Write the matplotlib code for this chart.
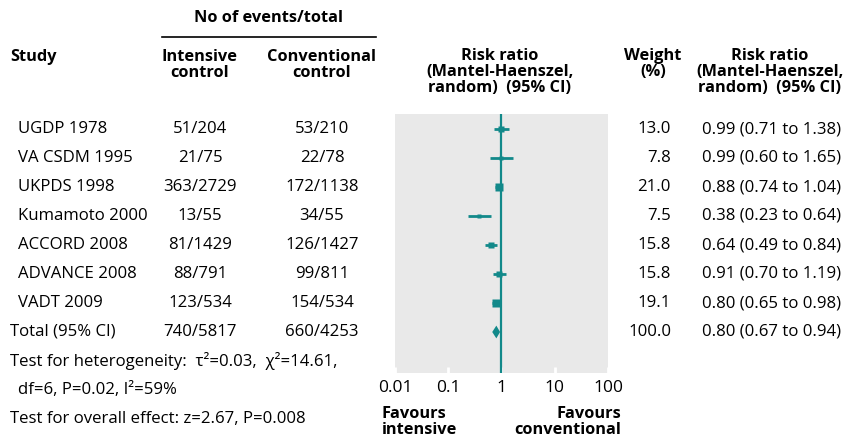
import matplotlib
matplotlib.use("Agg")
import matplotlib.pyplot as plt
import matplotlib.transforms as mtransforms

plt.rcParams['font.family'] = ['Open Sans', 'DejaVu Sans']

studies = ["UGDP 1978", "VA CSDM 1995", "UKPDS 1998", "Kumamoto 2000",
           "ACCORD 2008", "ADVANCE 2008", "VADT 2009"]
intensive = ["51/204", "21/75", "363/2729", "13/55", "81/1429", "88/791", "123/534"]
conventional = ["53/210", "22/78", "172/1138", "34/55", "126/1427", "99/811", "154/534"]
rr = [0.99, 0.99, 0.88, 0.38, 0.64, 0.91, 0.80]
lo = [0.71, 0.60, 0.74, 0.23, 0.49, 0.70, 0.65]
hi = [1.38, 1.65, 1.04, 0.64, 0.84, 1.19, 0.98]
weight = [13.0, 7.8, 21.0, 7.5, 15.8, 15.8, 19.1]

total_label = "Total (95% CI)"
total_int = "740/5817"
total_conv = "660/4253"
total_rr, total_lo, total_hi = 0.80, 0.67, 0.94
total_weight = 100.0

xticks = [0.01, 0.1, 1, 10, 100]
xtick_labels = ["0.01", "0.1", "1", "10", "100"]

TEAL = "#12898a"
FS = 12.1
HFS = 11.8
W, H = 854, 443
fig = plt.figure(figsize=(W / 100, H / 100), dpi=100)

# forest panel in pixel box
left, right, top, bottom = 395, 608, 114, 373
ax = fig.add_axes([left / W, 1 - bottom / H, (right - left) / W, (bottom - top) / H])
ax.set_facecolor("#e9e9e9")
ax.set_xscale("log")
ax.set_xlim(0.01, 100)
row0, step = 129, 29
ax.set_ylim((bottom - row0) / step, (top - row0) / step)
for s in ax.spines.values():
    s.set_visible(False)
ax.set_yticks([])
ax.set_xticks(xticks)
ax.set_xticklabels(xtick_labels, fontsize=12.5)
ax.minorticks_off()
ax.tick_params(axis="x", direction="in", length=4, width=2, color="white", pad=5)

ax.axvline(1, color=TEAL, lw=1.6, zorder=2)
for i in range(len(studies)):
    ax.plot([lo[i], hi[i]], [i, i], color=TEAL, lw=2, solid_capstyle="butt", zorder=3)
    ax.plot(rr[i], i, marker="s", color=TEAL, ms=2.0 + weight[i] * 0.18, mec="none", zorder=4)
ti = len(studies)
ax.fill([total_lo, total_rr, total_hi, total_rr], [ti, ti - 0.22, ti, ti + 0.22],
        color=TEAL, lw=0, zorder=4)

# text helpers: x in figure pixels, y in row units
rowtr = mtransforms.blended_transform_factory(fig.transFigure, ax.transData)


def row_text(x, row, s, **kw):
    fig.text(x / W, row, s, transform=rowtr, va="center", fontsize=FS, **kw)


def fig_text(x, y, s, **kw):
    fig.text(x / W, 1 - y / H, s, va="center", fontsize=HFS, **kw)


for i, name in enumerate(studies):
    row_text(18, i, name, ha="left")
    row_text(200, i, intensive[i], ha="center")
    row_text(322, i, conventional[i], ha="center")
    row_text(671, i, f"{weight[i]:.1f}", ha="right")
    row_text(702, i, f"{rr[i]:.2f} ({lo[i]:.2f} to {hi[i]:.2f})", ha="left")

row_text(10, ti, total_label, ha="left")
row_text(200, ti, total_int, ha="center")
row_text(322, ti, total_conv, ha="center")
row_text(671, ti, f"{total_weight:.1f}", ha="right")
row_text(702, ti, f"{total_rr:.2f} ({total_lo:.2f} to {total_hi:.2f})", ha="left")

row_text(10, ti + 1, "Test for heterogeneity:  τ²=0.03,  χ²=14.61,", ha="left")
row_text(18, ti + 2, "df=6, P=0.02, I²=59%", ha="left")
row_text(10, ti + 3, "Test for overall effect: z=2.67, P=0.008", ha="left")

# headers
fig_text(268, 18, "No of events/total", ha="center", fontweight="bold")
fig.add_artist(plt.Line2D([162 / W, 376 / W], [1 - 37 / H, 1 - 37 / H], color="black", lw=1.2))
fig_text(10, 57, "Study", ha="left", fontweight="bold")
fig_text(200, 65, "Intensive\ncontrol", ha="center", fontweight="bold", linespacing=1.0)
fig_text(322, 65, "Conventional\ncontrol", ha="center", fontweight="bold", linespacing=1.0)
fig_text(500, 72, "Risk ratio\n(Mantel-Haenszel,\nrandom)  (95% CI)", ha="center",
         fontweight="bold", linespacing=1.0)
fig_text(653, 64, "Weight\n(%)", ha="center", fontweight="bold", linespacing=1.0)
fig_text(770, 72, "Risk ratio\n(Mantel-Haenszel,\nrandom)  (95% CI)", ha="center",
         fontweight="bold", linespacing=1.0)

fig_text(382, 422, "Favours\nintensive", ha="left", fontweight="bold", linespacing=0.95)
fig_text(621, 422, "Favours\nconventional", ha="right", fontweight="bold", linespacing=0.95,
         multialignment="right")

fig.savefig("out.png", dpi=100)
